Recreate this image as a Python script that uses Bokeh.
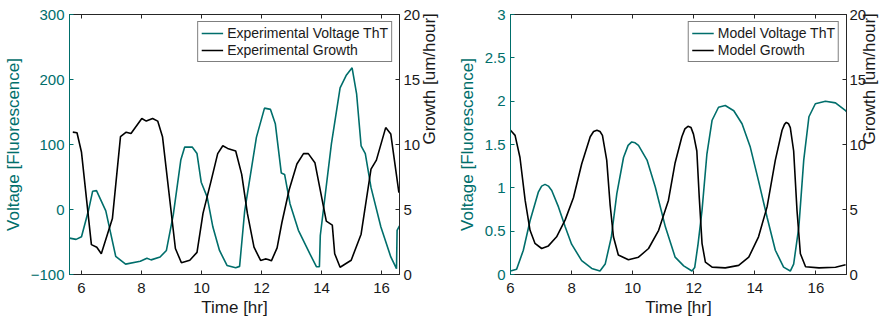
import math
from bokeh.plotting import figure
from bokeh.models import (Range1d, LinearAxis, FixedTicker, Legend, LegendItem,
                          CustomJSTickFormatter)
from bokeh.layouts import row
from bokeh.embed import file_html
from bokeh.resources import INLINE

# ---------------- data ----------------
# Left panel: experimental
exp_volt_t = [5.6, 5.82, 6.0, 6.23, 6.37, 6.5, 6.81, 7.14, 7.47, 7.96, 8.18, 8.32, 8.62,
              8.83, 9.06, 9.31, 9.44, 9.69, 9.85, 9.99, 10.19, 10.38, 10.6, 10.85, 11.14,
              11.27, 11.44, 11.83, 12.1, 12.3, 12.46, 12.66, 12.77, 12.95, 13.23, 13.61,
              13.83, 13.93, 13.96, 14.33, 14.62, 14.82, 15.02, 15.17, 15.32, 15.46, 15.65,
              15.98, 16.31, 16.5, 16.52, 16.6]
exp_volt = [-44, -46, -42, -2, 28, 29, -2, -72, -84, -79.5, -75, -77.5, -73,
            -63, -8, 76, 96, 96, 86, 42, 19, -27, -63, -86, -89.5,
            -87.5, -2, 111, 156, 154, 132, 56, 54, 9, -32, -68,
            -88, -88, -40, 101, 187, 206, 218, 178, 98, 86, 34,
            -27, -73, -91, -32, -25]
exp_growth_t = [5.71, 5.85, 6.0, 6.33, 6.51, 6.66, 7.03, 7.3, 7.49, 7.65, 8.01, 8.16, 8.37,
                8.54, 8.7, 9.13, 9.33, 9.61, 9.85, 10.05, 10.32, 10.54, 10.71, 10.87, 11.14,
                11.34, 11.53, 11.75, 11.97, 12.13, 12.22, 12.33, 12.52, 12.68, 12.92, 13.18,
                13.4, 13.56, 13.78, 14.16, 14.36, 14.44, 14.62, 14.99, 15.32, 15.65, 15.83,
                16.14, 16.31, 16.58]
exp_growth = [10.95, 10.9, 9.4, 2.3, 2.1, 1.6, 4.3, 10.6, 10.95, 10.85, 12.0, 11.8, 12.0,
              11.8, 10.6, 2.0, 0.9, 1.1, 1.7, 4.7, 7.2, 9.3, 9.9, 9.7, 9.5,
              7.7, 4.7, 2.1, 1.08, 1.2, 1.15, 1.05, 2.05, 4.0, 6.5, 8.5,
              9.3, 9.3, 8.6, 4.1, 3.8, 1.6, 0.56, 1.1, 3.1, 8.1, 8.8,
              11.3, 10.8, 6.3]

# Right panel: model
mod_volt_t = [6.0, 6.2, 6.42, 6.64, 6.91, 7.02, 7.13, 7.24, 7.35, 7.57, 7.79, 8.0, 8.33,
              8.66, 8.93, 9.1, 9.3, 9.48, 9.7, 9.85, 9.97, 10.08, 10.19, 10.47, 10.74,
              11.07, 11.39, 11.67, 11.94, 12.03, 12.14, 12.27, 12.43, 12.6, 12.81, 13.03,
              13.31, 13.58, 13.85, 14.12, 14.4, 14.67, 14.94, 15.16, 15.27, 15.44, 15.6,
              15.77, 15.98, 16.31, 16.64, 16.97, 17.0]
mod_volt = [0.04, 0.06, 0.28, 0.62, 0.95, 1.02, 1.04, 1.02, 0.97, 0.78, 0.55, 0.35, 0.16,
            0.07, 0.04, 0.12, 0.43, 0.93, 1.35, 1.49, 1.53, 1.52, 1.49, 1.32, 1.01,
            0.55, 0.2, 0.1, 0.04, 0.08, 0.35, 0.74, 1.39, 1.78, 1.93, 1.95,
            1.89, 1.74, 1.47, 1.08, 0.66, 0.28, 0.085, 0.04, 0.12, 0.55, 1.32,
            1.82, 1.97, 2.0, 1.98, 1.89, 1.88]
mod_growth_t = [6.0, 6.15, 6.31, 6.48, 6.64, 6.8, 7.02, 7.24, 7.51, 7.79, 8.06, 8.33, 8.61,
                8.72, 8.83, 8.93, 9.01, 9.15, 9.26, 9.37, 9.53, 9.86, 10.19, 10.52, 10.85,
                11.17, 11.39, 11.61, 11.71, 11.81, 11.91, 11.99, 12.1, 12.18, 12.27, 12.38,
                12.6, 13.03, 13.47, 13.8, 14.12, 14.4, 14.67, 14.89, 14.97, 15.03, 15.1,
                15.16, 15.27, 15.38, 15.49, 15.66, 16.1, 16.64, 16.97]
mod_growth = [11.1, 10.7, 9.0, 5.7, 3.4, 2.4, 2.0, 2.2, 2.9, 4.2, 5.9, 8.5, 10.6,
              11.0, 11.1, 11.0, 10.7, 8.8, 5.4, 2.9, 1.5, 1.13, 1.33, 2.0, 3.4,
              5.7, 8.6, 10.6, 11.2, 11.4, 11.3, 10.8, 9.5, 5.9, 2.4, 0.95,
              0.57, 0.51, 0.7, 1.33, 2.9, 5.2, 8.8, 11.1, 11.55, 11.7, 11.6,
              11.3, 9.5, 4.9, 1.6, 0.6, 0.51, 0.56, 0.75]

x_ticks = [6, 8, 10, 12, 14, 16]
growth_ticks = [0, 5, 10, 15, 20]
left_volt_ticks = [-100, 0, 100, 200, 300]
right_volt_ticks = [0, 0.5, 1, 1.5, 2, 2.5, 3]

TEAL = "#006e6b"
DARK = "#262626"
FONT = "Liberation Sans"
TICK_FS = "15px"
LABEL_FS = "17px"


def style_axis(ax, color, label_color=None):
    ax.axis_line_color = color
    ax.major_tick_line_color = color
    ax.major_tick_in = 4
    ax.major_tick_out = 0
    ax.minor_tick_line_color = None
    ax.major_label_text_font = FONT
    ax.major_label_text_font_size = TICK_FS
    ax.major_label_text_color = label_color or color
    ax.axis_label_text_font = FONT
    ax.axis_label_text_font_size = LABEL_FS
    ax.axis_label_text_font_style = "normal"
    ax.axis_label_text_color = label_color or color


def make_panel(width, bl, br, xr, yr, vticks, vt, vv, gt, gv, vlabel, glabel,
               r_std, r_lbl_std, fmt=None):
    p = figure(width=width, height=321, x_range=Range1d(*xr), y_range=Range1d(*yr),
               output_backend="svg", toolbar_location=None,
               min_border_left=bl, min_border_right=br, min_border_top=14,
               min_border_bottom=47)
    p.extra_y_ranges = {"g": Range1d(0, 20)}
    p.xgrid.visible = False
    p.ygrid.visible = False
    p.outline_line_color = DARK
    p.background_fill_color = "white"
    p.border_fill_color = "white"

    xa = p.xaxis[0]
    xa.ticker = FixedTicker(ticks=x_ticks)
    style_axis(xa, DARK, "#1a1a1a")
    xa.axis_label = "Time [hr]"
    xa.major_label_standoff = 8
    xa.axis_label_standoff = 2

    ya = p.yaxis[0]
    ya.ticker = FixedTicker(ticks=vticks)
    style_axis(ya, TEAL)
    ya.axis_label = "Voltage [Fluorescence]"
    ya.major_label_standoff = 5
    ya.axis_label_standoff = 5
    if fmt is not None:
        ya.formatter = fmt

    top = LinearAxis(ticker=FixedTicker(ticks=x_ticks),
                     major_label_overrides={t: "" for t in x_ticks})
    style_axis(top, DARK)
    top.major_label_standoff = 0
    p.add_layout(top, "above")

    ra = LinearAxis(y_range_name="g", ticker=FixedTicker(ticks=growth_ticks),
                    axis_label="Growth [um/hour]")
    style_axis(ra, DARK, "#1a1a1a")
    ra.major_label_standoff = r_std
    ra.axis_label_standoff = r_lbl_std
    ra.axis_label_orientation = math.pi / 2
    p.add_layout(ra, "right")

    r1 = p.line(vt, vv, line_color=TEAL, line_width=1.6)
    r2 = p.line(gt, gv, line_color="black", line_width=1.6, y_range_name="g")

    leg = Legend(items=[LegendItem(label=vlabel, renderers=[r1]),
                        LegendItem(label=glabel, renderers=[r2])],
                 location="top_right")
    leg.border_line_color = "black"
    leg.border_line_width = 1
    leg.background_fill_color = "white"
    leg.background_fill_alpha = 1
    leg.label_text_font = FONT
    leg.label_text_font_size = "14px"
    leg.label_text_color = "#1a1a1a"
    leg.glyph_width = 22
    leg.glyph_height = 16
    leg.label_height = 16
    leg.label_standoff = 4
    leg.padding = 3
    leg.spacing = 1
    leg.margin = 7
    p.add_layout(leg)
    return p


fmt = CustomJSTickFormatter(code="return tick.toString();")

p1 = make_panel(453, 65, 54, (5.6, 16.6), (-100, 300), left_volt_ticks,
                exp_volt_t, exp_volt, exp_growth_t, exp_growth,
                "Experimental Voltage ThT", "Experimental Growth", 4, 6)
p2 = make_panel(440, 57, 47, (6, 17), (0, 3), right_volt_ticks,
                mod_volt_t, mod_volt, mod_growth_t, mod_growth,
                "Model Voltage ThT", "Model Growth", 3, 0, fmt)

layout = row(p1, p2)
open("out.html", "w").write(file_html(layout, INLINE))
